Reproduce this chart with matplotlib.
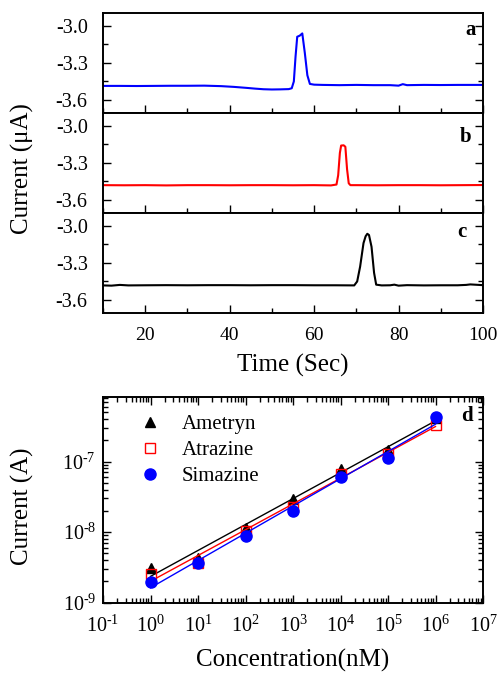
import numpy as np
import matplotlib
matplotlib.use("Agg")
from matplotlib import pyplot as plt
from matplotlib.ticker import MultipleLocator, FormatStrFormatter, LogLocator, FuncFormatter

font = {'family': 'Liberation Serif', 'size': 14}
matplotlib.rc('font', **font)
matplotlib.rcParams['mathtext.fontset'] = 'stix'
matplotlib.rcParams['axes.unicode_minus'] = False
matplotlib.rcParams['axes.linewidth'] = 1.4

# --- chromatogram traces (time in s, current in uA) ---
t_a = [10, 14, 18, 22, 26, 30, 34, 38, 41, 44, 46, 48, 50, 52, 54, 54.7, 55.2, 55.6, 56.0, 56.6,
       57.2, 57.8, 58.4, 59.0, 60, 62, 66, 70, 74, 78, 80, 81, 82, 86, 90, 94, 98, 100]
i_a = [-3.486, -3.486, -3.487, -3.486, -3.485, -3.485, -3.484, -3.488, -3.494, -3.502, -3.508,
       -3.513, -3.515, -3.514, -3.512, -3.505, -3.45, -3.25, -3.089, -3.080,
       -3.062, -3.22, -3.40, -3.470, -3.476, -3.478, -3.480, -3.478, -3.480, -3.480,
       -3.484, -3.472, -3.480, -3.478, -3.479, -3.478, -3.478, -3.478]

t_b = [10, 15, 20, 25, 30, 35, 40, 45, 50, 55, 60, 64, 65.3, 65.7, 66.1, 66.4, 67.0, 67.4,
       67.8, 68.2, 68.6, 70, 75, 80, 85, 90, 95, 100]
i_b = [-3.480, -3.481, -3.480, -3.482, -3.480, -3.480, -3.481, -3.480, -3.480, -3.481, -3.480,
       -3.482, -3.475, -3.40, -3.22, -3.160, -3.158, -3.170, -3.35, -3.465, -3.480,
       -3.480, -3.481, -3.480, -3.480, -3.481, -3.480, -3.479]

t_c = [10, 12, 14, 16, 20, 25, 30, 35, 40, 45, 50, 55, 60, 65, 69.5, 70.2, 70.9, 71.7, 72.2,
       72.6, 73.0, 73.6, 74.2, 74.7, 76, 78, 79, 80, 82, 86, 90, 94, 96, 97, 100]
i_c = [-3.482, -3.484, -3.478, -3.482, -3.481, -3.480, -3.481, -3.480, -3.480, -3.481, -3.480,
       -3.480, -3.481, -3.481, -3.482, -3.45, -3.33, -3.14, -3.085, -3.065, -3.075, -3.17,
       -3.38, -3.476, -3.482, -3.481, -3.476, -3.484, -3.480, -3.482, -3.481, -3.481, -3.478,
       -3.474, -3.480]

# --- calibration data ---
conc = [1e0, 1e1, 1e2, 1e3, 1e4, 1e5, 1e6]
ametryn = [3.07e-9, 4.26e-9, 1.16e-8, 2.93e-8, 7.9e-8, 1.47e-7, 4.1e-7]
atrazine = [2.53e-9, 3.7e-9, 1.04e-8, 2.3e-8, 6.6e-8, 1.29e-7, 3.3e-7]
simazine = [1.99e-9, 3.7e-9, 8.9e-9, 2.0e-8, 6.1e-8, 1.14e-7, 4.3e-7]


def pow10(v, pos):
    e = int(round(np.log10(v)))
    s = str(abs(e))
    if e < 0:
        s = '\u2010' + s
    return r'$\mathdefault{10^{%s}}$' % s


fig = plt.figure(figsize=(4.98, 6.73), dpi=100)

W, H = 498.0, 673.0
left = 103 / W
width = 380 / W
tops = [13, 113, 213]
traces = [(t_a, i_a, 'blue', 'a', (0.966, 0.83)),
          (t_b, i_b, 'red', 'b', (0.955, 0.763)),
          (t_c, i_c, 'black', 'c', (0.944, 0.813))]
axes = []
for k, (t, cur, col, lab, pos) in enumerate(traces):
    ax = fig.add_axes([left, 1 - (tops[k] + 100) / H, width, 100 / H])
    ax.plot(t, cur, color=col, lw=1.5)
    ax.set_xlim(10, 100)
    ax.set_ylim(-3.705, -2.897)
    ax.yaxis.set_major_locator(MultipleLocator(0.3))
    ax.yaxis.set_minor_locator(MultipleLocator(0.15))
    ax.yaxis.set_major_formatter(FormatStrFormatter('%.1f'))
    ax.xaxis.set_major_locator(MultipleLocator(20))
    ax.xaxis.set_minor_locator(MultipleLocator(10))
    ax.tick_params(which='both', direction='in', right=True, top=False, width=1)
    ax.tick_params(which='major', length=6)
    ax.tick_params(which='minor', length=3.5)
    ax.tick_params(axis='y', which='major', pad=11, labelsize=14.5)
    ax.tick_params(axis='x', which='major', pad=10)
    ax.text(pos[0], pos[1], lab, transform=ax.transAxes, fontsize=15,
            fontweight='bold', ha='center', va='center')
    if k < 2:
        ax.tick_params(labelbottom=False)
    axes.append(ax)

axes[2].set_xlabel('Time (Sec)', fontsize=18, labelpad=7)
fig.text(22 / W, 0.750, 'Current (\u03bcA)', rotation=90, fontsize=18,
         ha='center', va='center')

# --- calibration panel ---
axd = fig.add_axes([left, 1 - 602.7 / H, width, 206 / H])
series = [(ametryn, 'Ametryn', '^', 'black', 'black', 7.5),
          (atrazine, 'Atrazine', 's', 'red', 'none', 6.5),
          (simazine, 'Simazine', 'o', 'blue', 'blue', 8)]
x_fit = np.array([1e0, 1e6])
for vals, name, mk, col, fc, ms in series:
    coeffs = np.polyfit(np.log10(conc), np.log10(vals), 1)
    axd.plot(x_fit, 10 ** np.polyval(coeffs, np.log10(x_fit)), color=col, lw=1)
    axd.plot(conc, vals, ls='none', marker=mk, color=col, mfc=fc, mec=col, ms=ms,
             label=name)

axd.set_xscale('log')
axd.set_yscale('log')
axd.set_xlim(1e-1, 1e7)
axd.set_ylim(1e-9, 8.3e-7)
axd.xaxis.set_major_locator(LogLocator(base=10, numticks=20))
axd.xaxis.set_minor_locator(LogLocator(base=10, subs=np.arange(2, 10), numticks=20))
axd.xaxis.set_major_formatter(FuncFormatter(pow10))
axd.yaxis.set_major_formatter(FuncFormatter(pow10))
axd.tick_params(which='both', direction='in', right=True, top=True, width=1)
axd.tick_params(which='major', length=6, labelsize=14.5)
axd.tick_params(which='minor', length=3.5)
axd.tick_params(axis='x', which='major', pad=9)
axd.tick_params(axis='y', which='major', pad=5)
axd.set_xlabel('Concentration(nM)', fontsize=18, labelpad=9)
fig.text(22 / W, 1 - 506.5 / H, 'Current (A)', rotation=90, fontsize=18,
         ha='center', va='center')
axd.text(0.957, 0.906, 'd', transform=axd.transAxes, fontsize=15,
         fontweight='bold', ha='center', va='center')
axd.legend(loc='upper left', bbox_to_anchor=(0.069, 0.965), frameon=False, fontsize=15,
           handlelength=1.0, handletextpad=1.0, borderpad=0, labelspacing=0.32,
           numpoints=1)

fig.savefig('out.png', dpi=100)
